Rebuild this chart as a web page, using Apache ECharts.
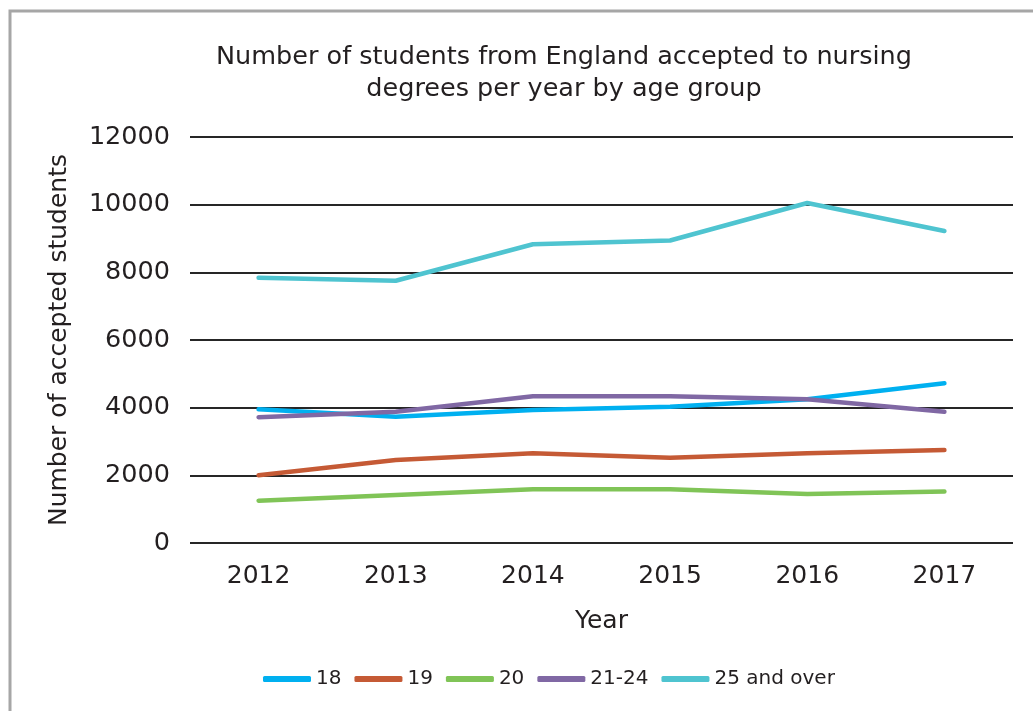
<!DOCTYPE html>
<html><head><meta charset="utf-8">
<script src="https://cdn.jsdelivr.net/npm/echarts@6/dist/echarts.min.js"></script>
<style>html,body{margin:0;padding:0;background:#fff}#c{width:1033px;height:711px}</style>
</head><body><div id="c"></div>
<script>
const years = ['2012','2013','2014','2015','2016','2017'];
const age18 = [3950, 3730, 3930, 4030, 4250, 4720];
const age19 = [2000, 2450, 2650, 2520, 2650, 2750];
const age20 = [1250, 1420, 1590, 1590, 1450, 1520];
const age2124 = [3720, 3880, 4340, 4340, 4250, 3880];
const age25 = [7840, 7750, 8830, 8940, 10050, 9220];
const seriesNames = ['18','19','20','21-24','25 and over'];
const colors = ['#00B0F0','#C55A35','#80C457','#8068A4','#4FC4D0'];
const txt = '#231F20';
const font = 'DejaVu Sans';
const chart = echarts.init(document.getElementById('c'));
const data = [age18, age19, age20, age2124, age25];
chart.setOption({
  animation:false,
  textStyle:{fontFamily:font,color:txt},
  graphic:[{type:'rect',shape:{x:10,y:11,width:1200,height:900},style:{fill:'none',stroke:'#a6a6a6',lineWidth:3},z:-1}],
  title:{text:'Number of students from England accepted to nursing\ndegrees per year by age group',left:559,top:36,textAlign:'center',
    textStyle:{fontFamily:font,fontWeight:'normal',fontSize:25.5,color:txt,lineHeight:32}},
  grid:{left:190,right:20,top:137,bottom:168},
  xAxis:{type:'category',data:years,name:'Year',nameLocation:'middle',nameGap:66,
    nameTextStyle:{fontSize:25,color:txt,fontFamily:font},
    axisLine:{show:false},axisTick:{show:false},
    axisLabel:{fontSize:25,color:txt,margin:21,fontFamily:font}},
  yAxis:{type:'value',min:0,max:12000,interval:2000,name:'Number of accepted students',nameLocation:'middle',nameGap:118,
    nameTextStyle:{fontSize:25,color:txt,fontFamily:font},
    axisLine:{show:false},axisTick:{show:false},
    axisLabel:{fontSize:25.5,color:txt,margin:20,fontFamily:font,formatter:v=>String(v)},
    splitLine:{lineStyle:{color:'#262626',width:2}}},
  legend:{bottom:17,left:258,itemWidth:48,itemHeight:6,itemGap:13,icon:'roundRect',
    textStyle:{fontSize:20,color:txt,fontFamily:font}},
  series:data.map((d,i)=>({name:seriesNames[i],type:'line',data:d,symbol:'none',
    lineStyle:{width:4.5,color:colors[i],cap:'round'},itemStyle:{color:colors[i]}}))
});
</script></body></html>
